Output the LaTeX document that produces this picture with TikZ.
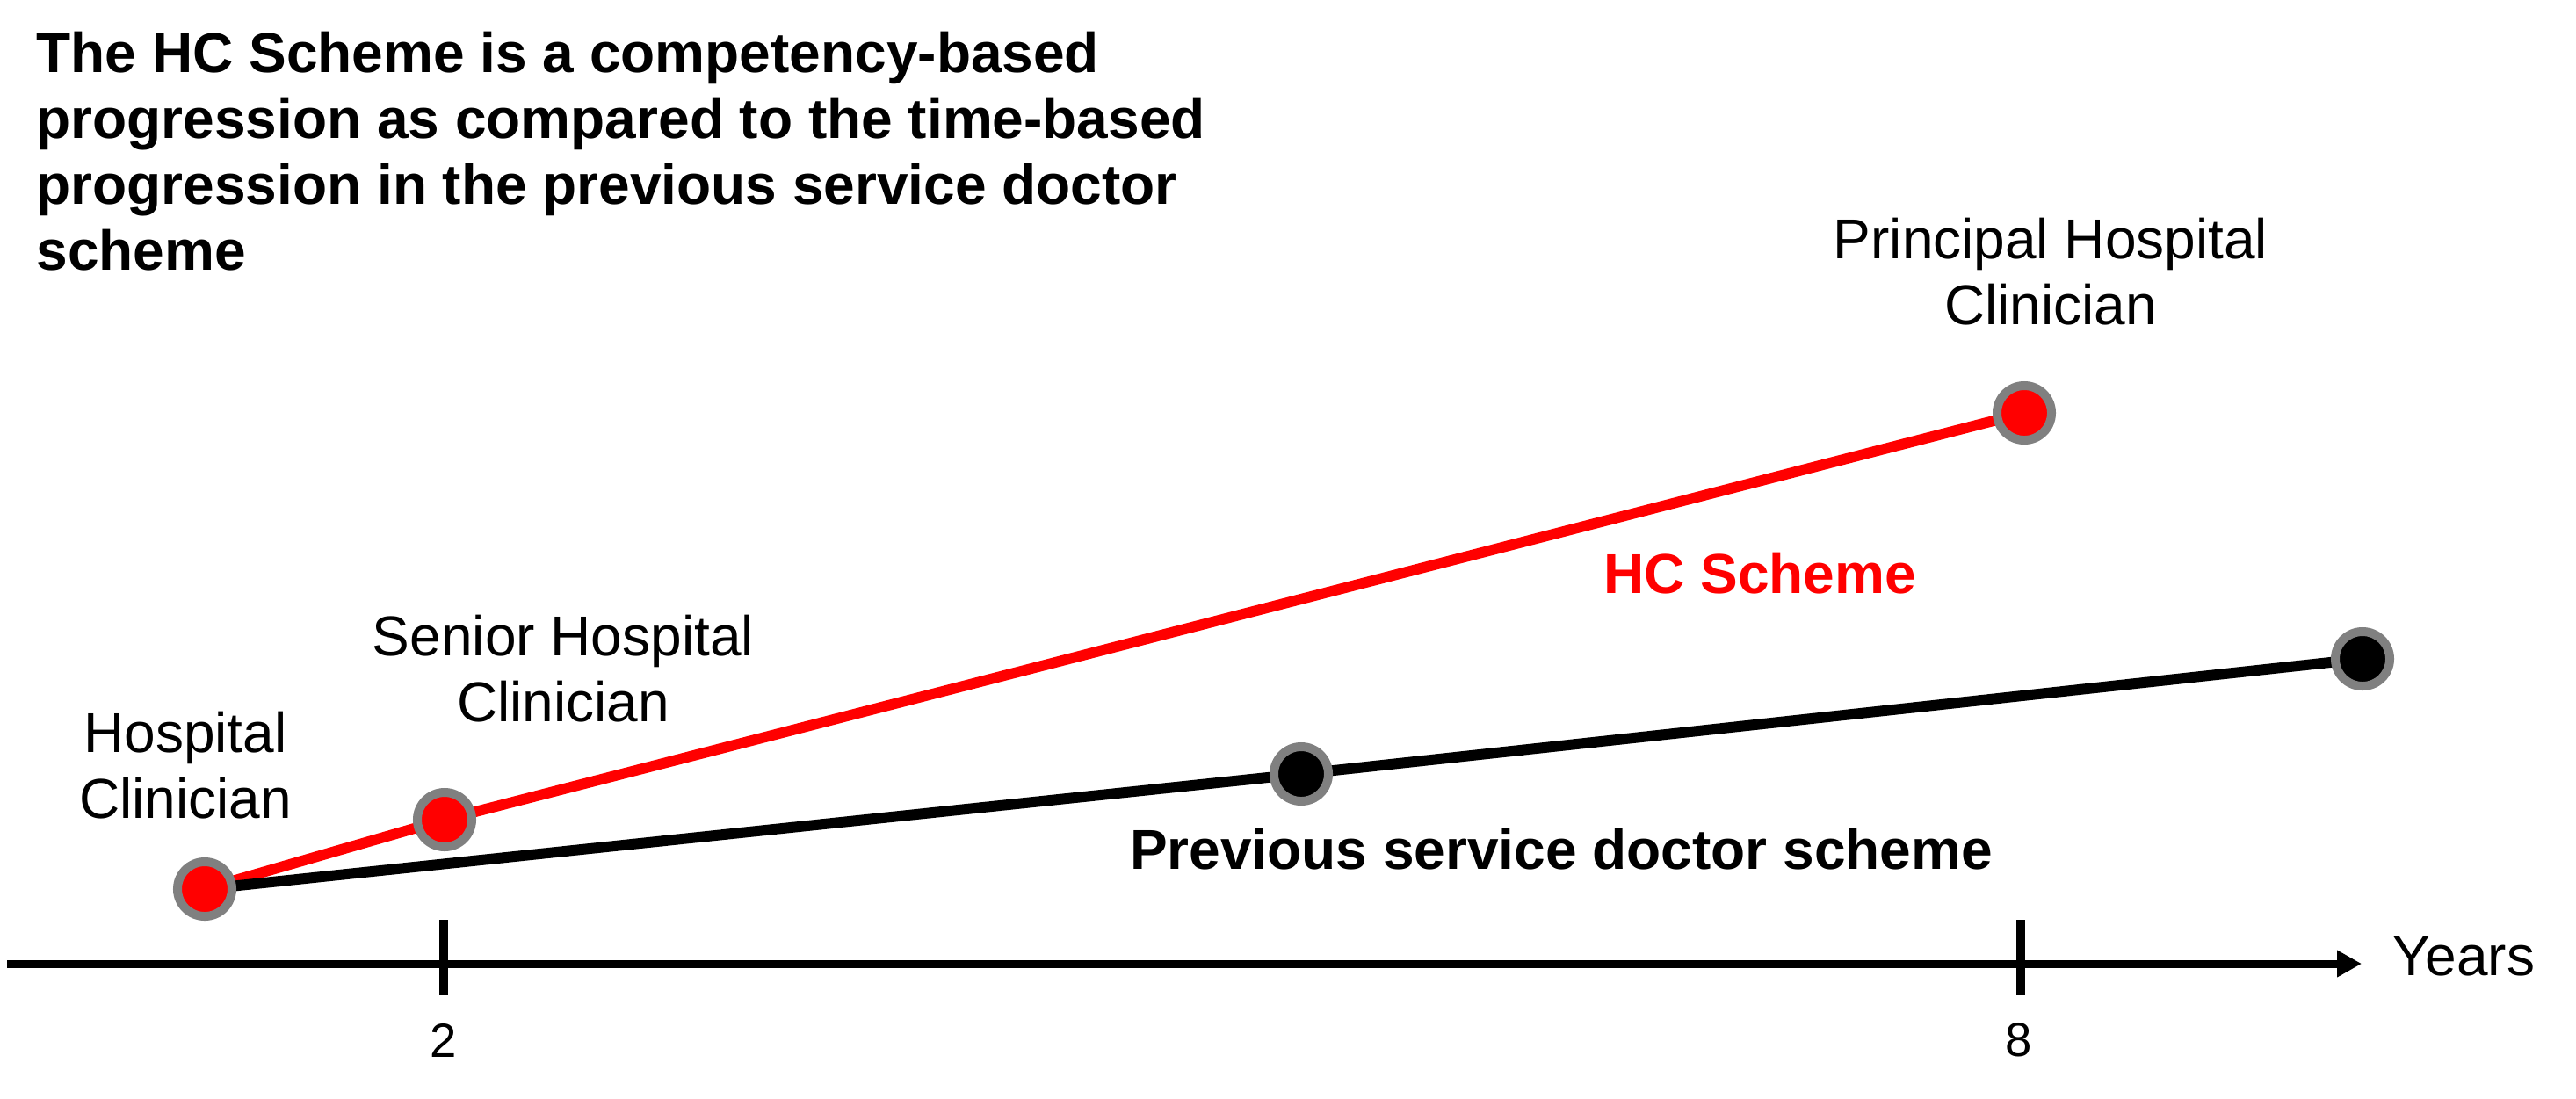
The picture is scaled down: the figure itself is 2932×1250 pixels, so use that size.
\documentclass[tikz,border=0pt]{standalone}
\usepackage{fontspec}
\setmainfont{Liberation Sans}
\usetikzlibrary{arrows.meta}
\definecolor{ringgray}{HTML}{808080}
\definecolor{hcred}{HTML}{FF0000}
\begin{document}
\begin{tikzpicture}[x=0.01cm,y=-0.01cm,
  lbl/.style={font=\fontsize{18.2}{21.5}\selectfont, align=center, inner sep=0pt},
  reddot/.style={circle, fill=hcred, draw=ringgray, line width=0.1cm, minimum size=0.62cm, inner sep=0pt},
  blackdot/.style={circle, fill=black, draw=ringgray, line width=0.1cm, minimum size=0.62cm, inner sep=0pt},
  tick/.style={line width=0.1cm},
  redline/.style={hcred, line width=0.12cm},
  blackline/.style={black, line width=0.12cm}]
\useasboundingbox (0,0) rectangle (2932,1250);
% title
\node[lbl, align=left, anchor=north west, font=\fontsize{18.2}{21.4}\selectfont\bfseries] (title) at (41,35)
  {The HC Scheme is a competency-based\\progression as compared to the time-based\\progression in the previous service doctor\\scheme};
% axis
\coordinate (axL) at (8,1097);
\coordinate (axR) at (2688,1097);
\draw[line width=0.09cm, -{Triangle[length=0.28cm,width=0.29cm]}] (axL) -- (axR);
\coordinate (t2a) at (505,1047); \coordinate (t2b) at (505,1133);
\coordinate (t8a) at (2300,1047); \coordinate (t8b) at (2300,1133);
\draw[tick] (t2a) -- (t2b);
\draw[tick] (t8a) -- (t8b);
\node[lbl, font=\fontsize{15.5}{18}\selectfont] (n2) at (505,1184) {2};
\node[lbl, font=\fontsize{15.5}{18}\selectfont] (n8) at (2298,1184) {8};
\node[lbl, anchor=base west] (years) at (2723,1110) {Years};
% dots (positions)
\coordinate (pH) at (233,1012);
\coordinate (pS) at (506,933);
\coordinate (pP) at (2304,470);
\coordinate (pM) at (1481,881);
\coordinate (pE) at (2689,750);
% lines
\draw[redline] (pH) -- (pS) -- (pP);
\draw[blackline] (pH) -- (pM) -- (pE);
\node[reddot] (dH) at (pH) {};
\node[reddot] (dS) at (pS) {};
\node[reddot] (dP) at (pP) {};
\node[blackdot] (dM) at (pM) {};
\node[blackdot] (dE) at (pE) {};
% labels
\node[lbl] (lH) at (211,871) {Hospital\\Clinician};
\node[lbl] (lS) at (641,761) {Senior Hospital\\Clinician};
\node[lbl] (lP) at (2334,309) {Principal Hospital\\Clinician};
\node[lbl, font=\fontsize{18.2}{21.5}\selectfont\bfseries, text=hcred] (lHC) at (2003,653) {HC Scheme};
\node[lbl, font=\fontsize{18.2}{21.5}\selectfont\bfseries] (lPrev) at (1777,967) {Previous service doctor scheme};
\end{tikzpicture}
\end{document}
